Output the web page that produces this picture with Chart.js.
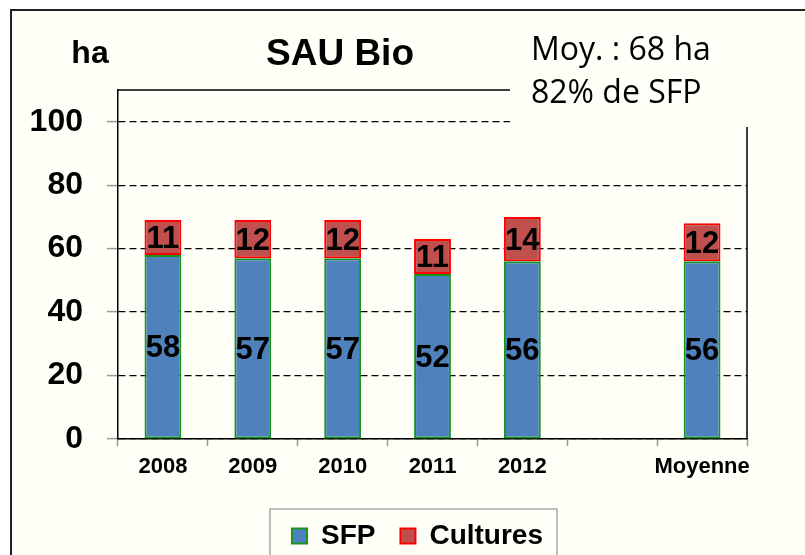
<!DOCTYPE html>
<html>
<head>
<meta charset="utf-8">
<script src="https://cdn.jsdelivr.net/npm/chart.js@4.4.1/dist/chart.umd.min.js"></script>
<style>
  html, body { margin: 0; padding: 0; background: #fff; overflow: hidden; }
  #cadre { position: absolute; left: 10px; top: 9px; width: 830px; height: 600px; background: #FFFFF7; border: 2px solid #222; }
  #zona { position: absolute; left: 0; top: 0; }
</style>
</head>
<body>
<div id="cadre"></div>
<div id="zona"><canvas id="grafica-sau" width="805" height="560"></canvas></div>
<script>
// Datos SAU Bio (ha)
var categorias = ['2008', '2009', '2010', '2011', '2012', '', 'Moyenne'];
var sfp = [58, 57, 57, 52, 56, null, 56];
var cultures = [11, 12, 12, 11, 14, null, 12];
var ticksY = [0, 20, 40, 60, 80, 100];
var titulo = 'SAU Bio';
var unidad = 'ha';
var notas = ['Moy. : 68 ha', '82% de SFP'];

var FUENTE = '"Liberation Sans", Arial, sans-serif';
var FONDO = '#FFFFF7';

// etiquetas de valor dentro de cada segmento
var etiquetasPlugin = {
    id: 'etiquetas',
    afterDatasetsDraw: function(chart) {
        var ctx = chart.ctx;
        ctx.save();
        ctx.font = 'bold 31px ' + FUENTE;
        ctx.fillStyle = '#000';
        ctx.textAlign = 'center';
        ctx.textBaseline = 'middle';
        chart.data.datasets.forEach(function(ds, i) {
            chart.getDatasetMeta(i).data.forEach(function(bar, j) {
                var v = ds.data[j];
                if (v == null) return;
                var p = bar.getProps(['x', 'y', 'base'], true);
                ctx.fillText(v, p.x, (p.y + p.base) / 2 + 2);
            });
        });
        ctx.restore();
    }
};

// marco, titulo, cuadro de texto y recuadro de leyenda
var marcoPlugin = {
    id: 'marco',
    afterDraw: function(chart) {
        var ctx = chart.ctx;
        var a = chart.chartArea;
        ctx.save();
        ctx.strokeStyle = '#000';
        ctx.lineWidth = 1.5;
        ctx.beginPath();
        ctx.moveTo(a.left, a.top);
        ctx.lineTo(a.right, a.top);
        ctx.lineTo(a.right, a.bottom);
        ctx.stroke();

        // cuadro de texto encima de la esquina
        ctx.fillStyle = FONDO;
        ctx.fillRect(510, 20, 295, 107);
        ctx.fillStyle = '#000';
        ctx.textAlign = 'left';
        ctx.textBaseline = 'alphabetic';
        ctx.font = '32px "Open Sans", sans-serif';
        ctx.fillText(notas[0], 531, 60);
        ctx.fillText(notas[1], 531, 103);

        ctx.textAlign = 'center';
        ctx.font = 'bold 37px ' + FUENTE;
        ctx.fillText(titulo, 340, 65);
        ctx.font = 'bold 32px ' + FUENTE;
        ctx.fillText(unidad, 90, 63);

        // recuadro de la leyenda
        var hb = chart.legend.legendHitBoxes;
        if (hb && hb.length) {
            var ult = hb[hb.length - 1];
            var izq = hb[0].left - 22;
            var der = ult.left + ult.width + 14;
            var arriba = hb[0].top - 13;
            ctx.strokeStyle = '#aaa';
            ctx.lineWidth = 1.5;
            ctx.strokeRect(izq, arriba, der - izq, 200);
        }
        ctx.restore();
    }
};

var ctx = document.getElementById('grafica-sau').getContext('2d');

var graficaSAU = new Chart(ctx, {
    type: 'bar',
    data: {
        labels: categorias,
        datasets: [{
            label: 'SFP',
            data: sfp,
            backgroundColor: '#4F81BD',
            borderColor: '#14961E',
            borderWidth: 2,
            borderSkipped: false
        }, {
            label: 'Cultures',
            data: cultures,
            backgroundColor: '#C0504D',
            borderColor: '#FF0000',
            borderWidth: 2,
            borderSkipped: false
        }]
    },
    options: {
        responsive: false,
        animation: false,
        layout: {
            padding: { top: 90, right: 0, left: 30, bottom: 0 }
        },
        datasets: {
            bar: { categoryPercentage: 1, barPercentage: 0.41 }
        },
        plugins: {
            legend: {
                position: 'bottom',
                labels: {
                    boxWidth: 15,
                    boxHeight: 15,
                    padding: 25,
                    color: '#000',
                    font: { family: FUENTE, size: 28, weight: 'bold' }
                }
            },
            tooltip: { enabled: false }
        },
        scales: {
            x: {
                stacked: true,
                grid: {
                    offset: true,
                    drawOnChartArea: false,
                    tickLength: 7,
                    tickColor: '#999',
                    tickWidth: 1.5
                },
                border: { color: '#000', width: 1.5 },
                ticks: {
                    color: '#000',
                    padding: 8,
                    maxRotation: 0,
                    autoSkip: false,
                    font: { family: FUENTE, size: 22, weight: 'bold' }
                },
                afterFit: function(scale) {
                    scale.height = scale.chart.height - scale.chart.legend.height - 439;
                }
            },
            y: {
                stacked: true,
                min: 0,
                max: 110,
                ticks: {
                    color: '#000',
                    padding: 24,
                    font: { family: FUENTE, size: 32, weight: 'bold' }
                },
                grid: {
                    color: '#000',
                    lineWidth: 1.2,
                    tickColor: '#999',
                    tickLength: 11,
                    tickWidth: 1.5
                },
                border: { color: '#000', width: 1.5, dash: [7, 4] },
                afterBuildTicks: function(scale) {
                    scale.ticks = ticksY.map(function(v) { return { value: v }; });
                },
                afterFit: function(scale) {
                    scale.width = 88;
                }
            },
            // eje vacío a la derecha, solo para reservar el margen
            derecha: {
                type: 'linear',
                position: 'right',
                min: 0,
                max: 110,
                grid: { display: false },
                ticks: { display: false },
                border: { display: false },
                afterFit: function(scale) {
                    scale.width = 58;
                }
            }
        }
    },
    plugins: [etiquetasPlugin, marcoPlugin]
});
</script>
</body>
</html>
